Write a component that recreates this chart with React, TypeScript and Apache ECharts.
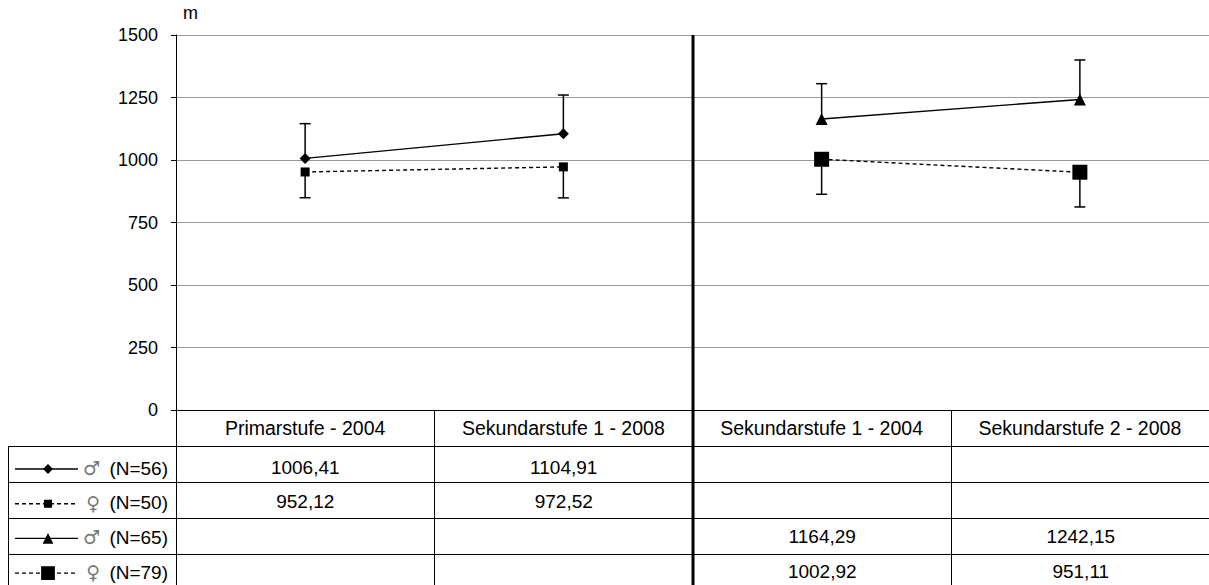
import React, { useEffect, useRef } from "react";
import * as echarts from "echarts";

const categories = [
  "Primarstufe - 2004",
  "Sekundarstufe 1 - 2008",
  "Sekundarstufe 1 - 2004",
  "Sekundarstufe 2 - 2008",
];
const genderSymbols = ["♂", "♀", "♂", "♀"];
const groupSizes = [56, 50, 65, 79];
const yMin = 0;
const yMax = 1500;
const yInterval = 250;
const yUnit = "m";

const male56 = [1006.41, 1104.91, null, null];
const female50 = [952.12, 972.52, null, null];
const male65 = [null, null, 1164.29, 1242.15];
const female79 = [null, null, 1002.92, 951.11];

// error bar lengths (males drawn upward, females downward)
const male56Err = [139, 155, null, null];
const female50Err = [103, 124, null, null];
const male65Err = [null, null, 141, 158];
const female79Err = [null, null, 140, 139];

const FONT = "'Liberation Sans', Arial, sans-serif";
const GRID_LEFT = 176;
const GRID_TOP = 35;
const GRID_W = 1034;
const GRID_H = 375;
const TABLE_LEFT = 8;
const ROW_TOP = 446;
const ROW_H = 36;
const TEXT_TOP = 468;
const TEXT_STEP = 34.7;
const BOTTOM = 585;

const fmt = (v: number) => v.toFixed(2).replace(".", ",");

export default function App() {
  const ref = useRef<HTMLDivElement>(null);
  useEffect(() => {
    if (!ref.current) return;
    const chart = echarts.init(ref.current, undefined, { renderer: "svg" });

    const values = [male56, female50, male65, female79];
    const errs = [male56Err, female50Err, male65Err, female79Err];
    const dirs = [1, -1, 1, -1];
    const symbols = ["diamond", "rect", "triangle", "rect"];
    const symbolSizes = [11, 9, 12, 15];
    const dashed = [false, true, false, true];
    const names = genderSymbols.map((g, i) => `${g} (N=${groupSizes[i]})`);

    const lineSeries = values.map((vals, i) => ({
      type: "line",
      name: names[i],
      data: vals,
      symbol: symbols[i],
      symbolSize: symbolSizes[i],
      showSymbol: true,
      lineStyle: { color: "#000", width: 1.4, type: dashed[i] ? [4, 3] : "solid" },
      itemStyle: { color: "#000" },
      z: 5,
    }));

    const errSeries = values.map((vals, i) => ({
      type: "custom",
      name: names[i] + " err",
      data: vals
        .map((v, k) => (v == null || errs[i][k] == null ? null : [k, v, v + dirs[i] * (errs[i][k] as number)]))
        .filter((d) => d != null),
      encode: { x: 0, y: [1, 2] },
      z: 3,
      renderItem: (params: any, api: any) => {
        const x = api.value(0);
        const p1 = api.coord([x, api.value(1)]);
        const p2 = api.coord([x, api.value(2)]);
        const hw = 5.5;
        return {
          type: "group",
          children: [
            { type: "line", shape: { x1: p1[0], y1: p1[1], x2: p2[0], y2: p2[1] }, style: { stroke: "#000", lineWidth: 1.5 } },
            { type: "line", shape: { x1: p2[0] - hw, y1: p2[1], x2: p2[0] + hw, y2: p2[1] }, style: { stroke: "#000", lineWidth: 1.5 } },
          ],
        };
      },
    }));

    const cw = GRID_W / categories.length;
    const right = GRID_LEFT + GRID_W;
    const graphics: any[] = [];
    for (let r = 0; r < values.length; r++) {
      const y = ROW_TOP + r * ROW_H + 0.5;
      graphics.push({ type: "line", shape: { x1: TABLE_LEFT, y1: y, x2: right, y2: y }, style: { stroke: "#000", lineWidth: 1 }, z: 10 });
    }
    graphics.push({ type: "line", shape: { x1: TABLE_LEFT + 0.5, y1: ROW_TOP, x2: TABLE_LEFT + 0.5, y2: BOTTOM }, style: { stroke: "#000", lineWidth: 1 }, z: 10 });
    const mid = GRID_LEFT + GRID_W / 2;
    graphics.push({ type: "line", shape: { x1: mid, y1: GRID_TOP, x2: mid, y2: BOTTOM }, style: { stroke: "#000", lineWidth: 3 }, z: 10 });

    values.forEach((vals, r) => {
      const ty = TEXT_TOP + r * TEXT_STEP;
      const cy = ty + 1;
      graphics.push({ type: "line", shape: { x1: 15, y1: cy, x2: 78, y2: cy }, style: { stroke: "#000", lineWidth: 1.4, lineDash: dashed[r] ? [4, 3] : null }, z: 10 });
      const s = symbolSizes[r];
      const mx = 48;
      if (symbols[r] === "diamond") {
        const h = s * 0.45;
        graphics.push({ type: "polygon", shape: { points: [[mx, cy - h], [mx + h, cy], [mx, cy + h], [mx - h, cy]] }, style: { fill: "#000" }, z: 11 });
      } else if (symbols[r] === "triangle") {
        const h = s * 0.45;
        graphics.push({ type: "polygon", shape: { points: [[mx, cy - h], [mx + h, cy + h], [mx - h, cy + h]] }, style: { fill: "#000" }, z: 11 });
      } else {
        const h = s * (r === 1 ? 0.45 : 0.46);
        graphics.push({ type: "rect", shape: { x: mx - h, y: cy - h, width: 2 * h, height: 2 * h }, style: { fill: "#000" }, z: 11 });
      }
      graphics.push({
        type: "text",
        x: 168,
        y: ty,
        style: {
          text: `{g|${genderSymbols[r]}} (N=${groupSizes[r]})`,
          align: "right",
          verticalAlign: "middle",
          font: `19px ${FONT}`,
          fill: "#000",
          rich: { g: { fontSize: 19, fontFamily: "'DejaVu Sans', sans-serif", fill: "#777", padding: [0, 4, 0, 0] } },
        },
        z: 11,
      });
      vals.forEach((v, c) => {
        if (v == null) return;
        graphics.push({
          type: "text",
          x: GRID_LEFT + (c + 0.5) * cw,
          y: ty - 1,
          style: { text: fmt(v), align: "center", verticalAlign: "middle", font: `19px ${FONT}`, fill: "#000" },
          z: 11,
        });
      });
    });

    chart.setOption({
      animation: false,
      backgroundColor: "#fff",
      grid: { left: GRID_LEFT, top: GRID_TOP, width: GRID_W, height: GRID_H, containLabel: false },
      xAxis: {
        type: "category",
        data: categories,
        boundaryGap: true,
        axisLine: { show: true, lineStyle: { color: "#000", width: 1 } },
        axisTick: { show: true, length: BOTTOM - (GRID_TOP + GRID_H), lineStyle: { color: "#000", width: 1 } },
        axisLabel: { color: "#000", fontSize: 19.5, fontFamily: FONT, margin: 18, verticalAlign: "middle", interval: 0 },
        splitLine: { show: false },
      },
      yAxis: {
        type: "value",
        min: yMin,
        max: yMax,
        interval: yInterval,
        name: yUnit,
        nameLocation: "end",
        nameGap: 13,
        nameTextStyle: { color: "#000", fontSize: 18, fontFamily: FONT, align: "left", padding: [0, 0, 0, 7] },
        axisLine: { show: true, lineStyle: { color: "#000", width: 1 } },
        axisTick: { show: true, length: 5, lineStyle: { color: "#000" } },
        axisLabel: { color: "#000", fontSize: 18, fontFamily: FONT, margin: 18, formatter: (v: number) => String(v) },
        splitLine: { show: true, lineStyle: { color: "#999", width: 1 } },
      },
      series: [...errSeries, ...lineSeries],
      graphic: graphics,
    });
    return () => chart.dispose();
  }, []);
  return (
    <div
      ref={ref}
      style={{ position: "fixed", left: 0, top: 0, width: 1209, height: 585, background: "#fff" }}
    />
  );
}
